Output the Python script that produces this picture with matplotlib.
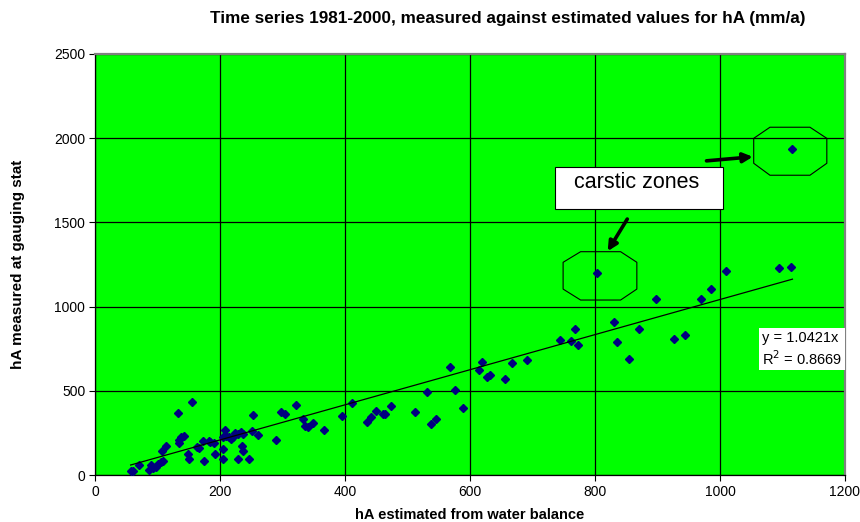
import matplotlib.pyplot as plt
from matplotlib.patches import Polygon, Rectangle

plt.rcParams['font.family'] = ['Liberation Sans', 'DejaVu Sans']

# hA estimated from water balance (mm/a)
estimated = [57, 61, 71, 86, 90, 93, 97, 101, 105, 108, 107, 114, 133, 155, 135, 134,
             138, 142, 149, 150, 163, 166, 173, 174, 182, 184, 190, 192, 204, 204, 208, 205,
             210, 214, 218, 220, 224, 228, 234, 236, 235, 236, 228, 247, 251, 260, 253, 290,
             298, 304, 321, 332, 336, 340, 349, 367, 395, 411, 435, 441, 450, 461, 464, 473,
             512, 538, 545, 532, 568, 576, 589, 614, 619, 628, 632, 656, 668, 692, 744, 762,
             768, 773, 804, 830, 835, 855, 871, 898, 926, 944, 969, 986, 1010, 1095, 1114, 1116]
# hA measured at gauging station (mm/a)
measured = [25, 25, 61, 31, 57, 40, 49, 65, 75, 85, 140, 172, 367, 432, 207, 188,
            223, 233, 123, 95, 168, 158, 201, 85, 203, 197, 188, 124, 152, 93, 267, 227,
            231, 223, 215, 223, 247, 241, 255, 243, 172, 144, 95, 95, 259, 235, 355, 207,
            375, 361, 415, 332, 294, 283, 310, 265, 348, 428, 316, 344, 381, 361, 365, 407,
            377, 302, 332, 490, 644, 505, 399, 626, 669, 582, 596, 573, 668, 683, 804, 796,
            865, 770, 1197, 911, 792, 689, 869, 1044, 806, 829, 1043, 1102, 1214, 1228, 1238, 1935]

slope = 1.0421
r_squared = 0.8669

x_ticks = [0, 200, 400, 600, 800, 1000, 1200]
y_ticks = [0, 500, 1000, 1500, 2000, 2500]

fig = plt.figure(figsize=(8.6, 5.22), dpi=100)
ax = fig.add_axes([0.1105, 0.09, 0.872, 0.8066])
ax.set_facecolor('#00FF00')

# scatter points
ax.plot(estimated, measured, linestyle='none', marker='D', markersize=4.5,
        color='#000080', zorder=3)

# linear trendline through the origin
trend_x = [min(estimated), max(estimated)]
trend_y = [slope * v for v in trend_x]
ax.plot(trend_x, trend_y, color='black', linewidth=0.9, zorder=3)

ax.set_xlim(0, 1200)
ax.set_ylim(0, 2500)
ax.set_xticks(x_ticks)
ax.set_yticks(y_ticks)
ax.grid(True, color='black', linewidth=0.9)
ax.set_axisbelow(True)
ax.tick_params(direction='out', length=4, width=0.8, labelsize=10, pad=3)

for side in ['top', 'right']:
    ax.spines[side].set_color('#808080')
    ax.spines[side].set_linewidth(1.6)
for side in ['left', 'bottom']:
    ax.spines[side].set_linewidth(0.9)

ax.set_xlabel('hA estimated from water balance', fontsize=10.5, fontweight='bold', labelpad=7)
ax.set_ylabel('hA measured at gauging stat', fontsize=11, fontweight='bold', labelpad=21)
fig.text(0.59, 0.964, 'Time series 1981-2000, measured against estimated values for hA (mm/a)',
         ha='center', va='center', fontsize=12.3, fontweight='bold')

# equation box
ax.text(1067, 855, 'y = ' + str(slope) + 'x\nR$^2$ = ' + str(r_squared), fontsize=10.5,
        va='top', ha='left', linespacing=1.25,
        bbox=dict(facecolor='white', edgecolor='none', pad=2), zorder=4)

# octagons around the carstic points
oct1 = [(777, 1326), (841, 1326), (867, 1263), (867, 1104), (841, 1039), (777, 1039), (749, 1104), (749, 1263)]
oct2 = [(1080, 2065), (1144, 2065), (1171, 1999), (1171, 1851), (1144, 1780), (1080, 1780), (1054, 1851), (1054, 1999)]
for pts in [oct1, oct2]:
    ax.add_patch(Polygon(pts, closed=True, fill=False, edgecolor='black', linewidth=0.8, zorder=4))

# callout box
ax.add_patch(Rectangle((736, 1580), 269, 247, facecolor='white', edgecolor='black',
                       linewidth=0.8, zorder=4))
ax.text(766, 1800, 'carstic zones', fontsize=15.5, va='top', ha='left', zorder=5)

# arrows
arrow_style = dict(arrowstyle='-|>', color='black', lw=2.6, mutation_scale=14)
ax.annotate('', xy=(1057, 1891), xytext=(974, 1864), arrowprops=arrow_style, zorder=5)
ax.annotate('', xy=(818, 1315), xytext=(854, 1534), arrowprops=arrow_style, zorder=5)

plt.savefig('out.png', dpi=100)
